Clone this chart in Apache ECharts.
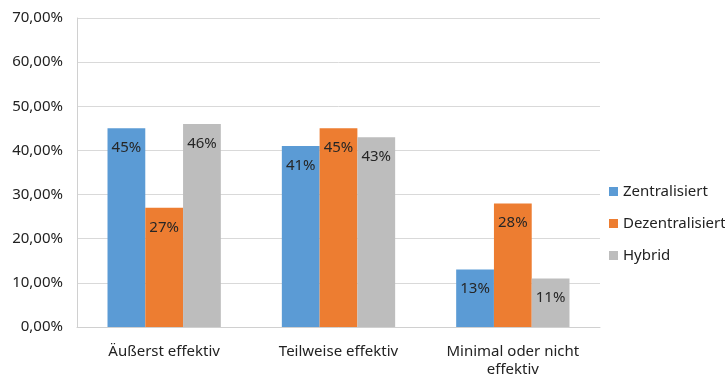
<!DOCTYPE html>
<html><head><meta charset="utf-8">
<script src="https://cdn.jsdelivr.net/npm/echarts@6/dist/echarts.min.js"></script>
<style>html,body{margin:0;padding:0;background:#fff}#c{width:725px;height:376px}</style>
</head><body><div id="c"></div>
<script>
const categories = ['Äußerst effektiv', 'Teilweise effektiv', 'Minimal oder nicht\neffektiv'];
const zentralisiert = [45, 41, 13];
const dezentralisiert = [27, 45, 28];
const hybrid = [46, 43, 11];
const seriesNames = ['Zentralisiert', 'Dezentralisiert', 'Hybrid'];
const colors = ['#5b9bd5', '#ed7d31', '#bdbdbd'];
const font = 'Noto Sans';

const chart = echarts.init(document.getElementById('c'));
const mk = (name, data, color) => ({
  name, type: 'bar', data, barGap: '0%', barCategoryGap: '35%',
  itemStyle: { color },
  label: { show: true, position: 'insideTop', distance: 12, color: '#262626', fontFamily: font, fontSize: 15,
    formatter: p => p.value + '%' }
});
chart.setOption({
  animation: false,
  textStyle: { fontFamily: font },
  grid: { left: 77, right: 125, top: 18, bottom: 49, outerBoundsMode: 'none', containLabel: false },
  legend: {
    orient: 'vertical', left: 604, top: 179, itemGap: 17, itemWidth: 9, itemHeight: 9,
    icon: 'rect', textStyle: { fontFamily: font, fontSize: 15, color: '#222' },
    data: seriesNames
  },
  xAxis: {
    type: 'category', data: categories,
    axisLine: { lineStyle: { color: '#d0d0d0' } }, axisTick: { show: false },
    axisLabel: { color: '#222', fontFamily: font, fontSize: 15, margin: 16, lineHeight: 18 }
  },
  yAxis: {
    type: 'value', min: 0, max: 70, interval: 10,
    axisLine: { show: true, lineStyle: { color: '#d0d0d0' } },
    splitLine: { lineStyle: { color: '#d9d9d9' } },
    axisLabel: { color: '#222', fontFamily: font, fontSize: 15, margin: 14,
      formatter: v => v.toFixed(2).replace('.', ',') + '%' }
  },
  series: [
    mk(seriesNames[0], zentralisiert, colors[0]),
    mk(seriesNames[1], dezentralisiert, colors[1]),
    mk(seriesNames[2], hybrid, colors[2])
  ]
});
</script></body></html>
